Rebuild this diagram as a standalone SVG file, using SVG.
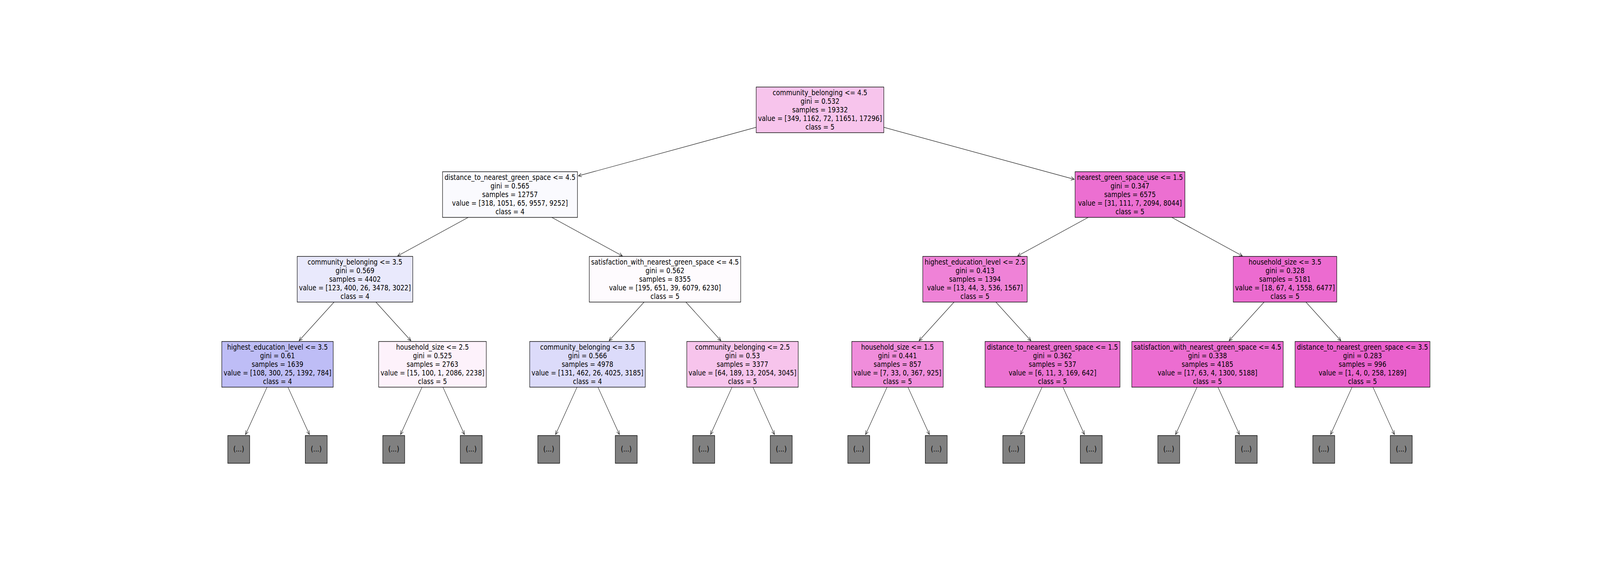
<svg xmlns="http://www.w3.org/2000/svg" width="5040" height="1440" viewBox="0 0 5040 1440" preserveAspectRatio="none">
<style>
svg{width:100vw;height:100vh}
.box{stroke:#000;stroke-width:1.4}
.leaf{fill:#808080;stroke:#000;stroke-width:1.4}
.t{font-family:"DejaVu Sans","Liberation Sans",sans-serif;font-size:19.9px;text-anchor:middle;fill:#000}
.e{stroke:#111;stroke-width:1.2;fill:none;marker-end:url(#ah)}
</style>
<defs>
<marker id="ah" viewBox="-1 -6 12 12" refX="10" refY="0" markerWidth="12" markerHeight="12" orient="auto" markerUnits="userSpaceOnUse">
<path d="M0,-4.5 L10,0 L0,4.5" fill="none" stroke="#111" stroke-width="1.2"/>
</marker>
</defs>
<rect x="0" y="0" width="5040" height="1440" fill="#fff"/>
<g id="connectors">
<path class="e" d="M2382,326.2 L1821.9,450.6"/>
<path class="e" d="M2784,326.2 L3383.6,459.4"/>
<path class="e" d="M1474.9,557 L1252.6,655.8"/>
<path class="e" d="M1738.1,557 L1960.4,655.8"/>
<path class="e" d="M3427.9,557 L3205.6,655.8"/>
<path class="e" d="M3691.1,557 L3913.4,655.8"/>
<path class="e" d="M1052.4,774 L942.1,873"/>
<path class="e" d="M1184,774 L1294.3,873"/>
<path class="e" d="M2028.9,774 L1918.6,873"/>
<path class="e" d="M2160.5,774 L2270.9,873"/>
<path class="e" d="M3005.4,774 L2895.1,873"/>
<path class="e" d="M3137,774 L3247.4,873"/>
<path class="e" d="M3982,774 L3871.6,873"/>
<path class="e" d="M4113.6,774 L4223.9,873"/>
<path class="e" d="M841.2,992 L773.4,1113.4"/>
<path class="e" d="M907,992 L974.7,1113.4"/>
<path class="e" d="M1329.4,992 L1261.7,1113.4"/>
<path class="e" d="M1395.2,992 L1463,1113.4"/>
<path class="e" d="M1817.7,992 L1750,1113.4"/>
<path class="e" d="M1883.5,992 L1951.2,1113.4"/>
<path class="e" d="M2305.9,992 L2238.2,1113.4"/>
<path class="e" d="M2371.8,992 L2439.5,1113.4"/>
<path class="e" d="M2794.2,992 L2726.5,1113.4"/>
<path class="e" d="M2860,992 L2927.7,1113.4"/>
<path class="e" d="M3282.5,992 L3214.7,1113.4"/>
<path class="e" d="M3348.3,992 L3416,1113.4"/>
<path class="e" d="M3770.7,992 L3703,1113.4"/>
<path class="e" d="M3836.5,992 L3904.3,1113.4"/>
<path class="e" d="M4259,992 L4191.3,1113.4"/>
<path class="e" d="M4324.8,992 L4392.5,1113.4"/>
</g>
<g id="node0">
<rect class="box" x="2382" y="223" width="402" height="117" fill="#f7c4ec"/>
<text class="t"><tspan x="2583" y="244.3">community_belonging &lt;= 4.5</tspan><tspan x="2583" y="266.3">gini = 0.532</tspan><tspan x="2583" y="288.3">samples = 19332</tspan><tspan x="2583" y="310.3">value = [349, 1162, 72, 11651, 17296]</tspan><tspan x="2583" y="332.3">class = 5</tspan></text>
</g>
<g id="node1">
<rect class="box" x="1394" y="440" width="425" height="117" fill="#fafafe"/>
<text class="t"><tspan x="1606.5" y="461.3">distance_to_nearest_green_space &lt;= 4.5</tspan><tspan x="1606.5" y="483.3">gini = 0.565</tspan><tspan x="1606.5" y="505.3">samples = 12757</tspan><tspan x="1606.5" y="527.3">value = [318, 1051, 65, 9557, 9252]</tspan><tspan x="1606.5" y="549.3">class = 4</tspan></text>
</g>
<g id="node2">
<rect class="box" x="3386.5" y="440" width="346" height="117" fill="#ec6fd1"/>
<text class="t"><tspan x="3559.5" y="461.3">nearest_green_space_use &lt;= 1.5</tspan><tspan x="3559.5" y="483.3">gini = 0.347</tspan><tspan x="3559.5" y="505.3">samples = 6575</tspan><tspan x="3559.5" y="527.3">value = [31, 111, 7, 2094, 8044]</tspan><tspan x="3559.5" y="549.3">class = 5</tspan></text>
</g>
<g id="node3">
<rect class="box" x="936.2" y="657" width="364" height="117" fill="#e9e9fc"/>
<text class="t"><tspan x="1118.2" y="678.3">community_belonging &lt;= 3.5</tspan><tspan x="1118.2" y="700.3">gini = 0.569</tspan><tspan x="1118.2" y="722.3">samples = 4402</tspan><tspan x="1118.2" y="744.3">value = [123, 400, 26, 3478, 3022]</tspan><tspan x="1118.2" y="766.3">class = 4</tspan></text>
</g>
<g id="node4">
<rect class="box" x="1856.2" y="657" width="477" height="117" fill="#fefbfe"/>
<text class="t"><tspan x="2094.7" y="678.3">satisfaction_with_nearest_green_space &lt;= 4.5</tspan><tspan x="2094.7" y="700.3">gini = 0.562</tspan><tspan x="2094.7" y="722.3">samples = 8355</tspan><tspan x="2094.7" y="744.3">value = [195, 651, 39, 6079, 6230]</tspan><tspan x="2094.7" y="766.3">class = 5</tspan></text>
</g>
<g id="node5">
<rect class="box" x="2906.7" y="657" width="329" height="117" fill="#ef82d7"/>
<text class="t"><tspan x="3071.2" y="678.3">highest_education_level &lt;= 2.5</tspan><tspan x="3071.2" y="700.3">gini = 0.413</tspan><tspan x="3071.2" y="722.3">samples = 1394</tspan><tspan x="3071.2" y="744.3">value = [13, 44, 3, 536, 1567]</tspan><tspan x="3071.2" y="766.3">class = 5</tspan></text>
</g>
<g id="node6">
<rect class="box" x="3884.8" y="657" width="326" height="117" fill="#ec6bd0"/>
<text class="t"><tspan x="4047.8" y="678.3">household_size &lt;= 3.5</tspan><tspan x="4047.8" y="700.3">gini = 0.328</tspan><tspan x="4047.8" y="722.3">samples = 5181</tspan><tspan x="4047.8" y="744.3">value = [18, 67, 4, 1558, 6477]</tspan><tspan x="4047.8" y="766.3">class = 5</tspan></text>
</g>
<g id="node7">
<rect class="box" x="698.6" y="875" width="351" height="117" fill="#bebdf6"/>
<text class="t"><tspan x="874.1" y="896.3">highest_education_level &lt;= 3.5</tspan><tspan x="874.1" y="918.3">gini = 0.61</tspan><tspan x="874.1" y="940.3">samples = 1639</tspan><tspan x="874.1" y="962.3">value = [108, 300, 25, 1392, 784]</tspan><tspan x="874.1" y="984.3">class = 4</tspan></text>
</g>
<g id="node8">
<rect class="box" x="1192.8" y="875" width="339" height="117" fill="#fdf2fb"/>
<text class="t"><tspan x="1362.3" y="896.3">household_size &lt;= 2.5</tspan><tspan x="1362.3" y="918.3">gini = 0.525</tspan><tspan x="1362.3" y="940.3">samples = 2763</tspan><tspan x="1362.3" y="962.3">value = [15, 100, 1, 2086, 2238]</tspan><tspan x="1362.3" y="984.3">class = 5</tspan></text>
</g>
<g id="node9">
<rect class="box" x="1668.6" y="875" width="364" height="117" fill="#dcdbfa"/>
<text class="t"><tspan x="1850.6" y="896.3">community_belonging &lt;= 3.5</tspan><tspan x="1850.6" y="918.3">gini = 0.566</tspan><tspan x="1850.6" y="940.3">samples = 4978</tspan><tspan x="1850.6" y="962.3">value = [131, 462, 26, 4025, 3185]</tspan><tspan x="1850.6" y="984.3">class = 4</tspan></text>
</g>
<g id="node10">
<rect class="box" x="2163.4" y="875" width="351" height="117" fill="#f7c4ec"/>
<text class="t"><tspan x="2338.9" y="896.3">community_belonging &lt;= 2.5</tspan><tspan x="2338.9" y="918.3">gini = 0.53</tspan><tspan x="2338.9" y="940.3">samples = 3377</tspan><tspan x="2338.9" y="962.3">value = [64, 189, 13, 2054, 3045]</tspan><tspan x="2338.9" y="984.3">class = 5</tspan></text>
</g>
<g id="node11">
<rect class="box" x="2683.1" y="875" width="288" height="117" fill="#f08ddb"/>
<text class="t"><tspan x="2827.1" y="896.3">household_size &lt;= 1.5</tspan><tspan x="2827.1" y="918.3">gini = 0.441</tspan><tspan x="2827.1" y="940.3">samples = 857</tspan><tspan x="2827.1" y="962.3">value = [7, 33, 0, 367, 925]</tspan><tspan x="2827.1" y="984.3">class = 5</tspan></text>
</g>
<g id="node12">
<rect class="box" x="3102.9" y="875" width="425" height="117" fill="#ec72d2"/>
<text class="t"><tspan x="3315.4" y="896.3">distance_to_nearest_green_space &lt;= 1.5</tspan><tspan x="3315.4" y="918.3">gini = 0.362</tspan><tspan x="3315.4" y="940.3">samples = 537</tspan><tspan x="3315.4" y="962.3">value = [6, 11, 3, 169, 642]</tspan><tspan x="3315.4" y="984.3">class = 5</tspan></text>
</g>
<g id="node13">
<rect class="box" x="3565.1" y="875" width="477" height="117" fill="#ec6dd1"/>
<text class="t"><tspan x="3803.6" y="896.3">satisfaction_with_nearest_green_space &lt;= 4.5</tspan><tspan x="3803.6" y="918.3">gini = 0.338</tspan><tspan x="3803.6" y="940.3">samples = 4185</tspan><tspan x="3803.6" y="962.3">value = [17, 63, 4, 1300, 5188]</tspan><tspan x="3803.6" y="984.3">class = 5</tspan></text>
</g>
<g id="node14">
<rect class="box" x="4079.4" y="875" width="425" height="117" fill="#ea61cd"/>
<text class="t"><tspan x="4291.9" y="896.3">distance_to_nearest_green_space &lt;= 3.5</tspan><tspan x="4291.9" y="918.3">gini = 0.283</tspan><tspan x="4291.9" y="940.3">samples = 996</tspan><tspan x="4291.9" y="962.3">value = [1, 4, 0, 258, 1289]</tspan><tspan x="4291.9" y="984.3">class = 5</tspan></text>
</g>
<g id="leaf0"><rect class="leaf" x="717.5" y="1116" width="69" height="71"/><text class="t" x="752" y="1157.5">(...)</text></g>
<g id="leaf1"><rect class="leaf" x="961.63" y="1116" width="69" height="71"/><text class="t" x="996.13" y="1157.5">(...)</text></g>
<g id="leaf2"><rect class="leaf" x="1205.76" y="1116" width="69" height="71"/><text class="t" x="1240.26" y="1157.5">(...)</text></g>
<g id="leaf3"><rect class="leaf" x="1449.89" y="1116" width="69" height="71"/><text class="t" x="1484.39" y="1157.5">(...)</text></g>
<g id="leaf4"><rect class="leaf" x="1694.02" y="1116" width="69" height="71"/><text class="t" x="1728.52" y="1157.5">(...)</text></g>
<g id="leaf5"><rect class="leaf" x="1938.15" y="1116" width="69" height="71"/><text class="t" x="1972.65" y="1157.5">(...)</text></g>
<g id="leaf6"><rect class="leaf" x="2182.28" y="1116" width="69" height="71"/><text class="t" x="2216.78" y="1157.5">(...)</text></g>
<g id="leaf7"><rect class="leaf" x="2426.41" y="1116" width="69" height="71"/><text class="t" x="2460.91" y="1157.5">(...)</text></g>
<g id="leaf8"><rect class="leaf" x="2670.54" y="1116" width="69" height="71"/><text class="t" x="2705.04" y="1157.5">(...)</text></g>
<g id="leaf9"><rect class="leaf" x="2914.67" y="1116" width="69" height="71"/><text class="t" x="2949.17" y="1157.5">(...)</text></g>
<g id="leaf10"><rect class="leaf" x="3158.8" y="1116" width="69" height="71"/><text class="t" x="3193.3" y="1157.5">(...)</text></g>
<g id="leaf11"><rect class="leaf" x="3402.93" y="1116" width="69" height="71"/><text class="t" x="3437.43" y="1157.5">(...)</text></g>
<g id="leaf12"><rect class="leaf" x="3647.06" y="1116" width="69" height="71"/><text class="t" x="3681.56" y="1157.5">(...)</text></g>
<g id="leaf13"><rect class="leaf" x="3891.19" y="1116" width="69" height="71"/><text class="t" x="3925.69" y="1157.5">(...)</text></g>
<g id="leaf14"><rect class="leaf" x="4135.32" y="1116" width="69" height="71"/><text class="t" x="4169.82" y="1157.5">(...)</text></g>
<g id="leaf15"><rect class="leaf" x="4379.45" y="1116" width="69" height="71"/><text class="t" x="4413.95" y="1157.5">(...)</text></g>
</svg>
